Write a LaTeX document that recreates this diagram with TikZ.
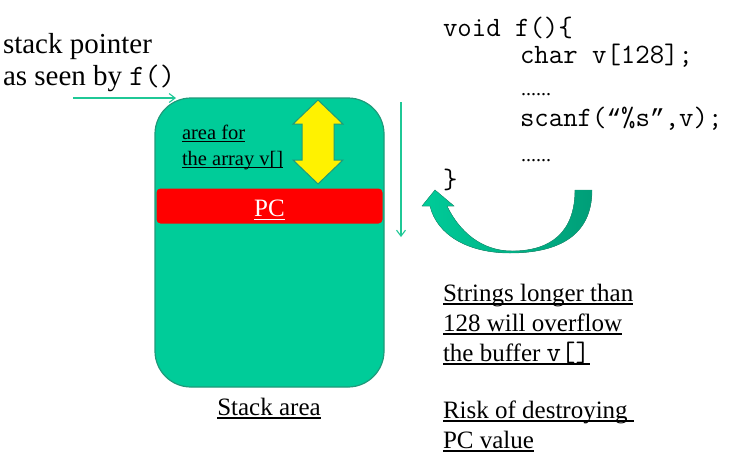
\documentclass[tikz,border=0pt]{standalone}
\usepackage{fontspec}
\setmainfont{Liberation Serif}
\newcommand\cour{\ttfamily}
\newfontfamily\lmono{Liberation Mono}
\newcommand\cq[1]{\makebox[14.7pt]{\lmono\fontsize{24.5}{24.5}\selectfont #1}}
\usetikzlibrary{arrows.meta}
\definecolor{stackfill}{HTML}{00CC99}
\definecolor{stackedge}{HTML}{1E9A7A}
\definecolor{linecol}{HTML}{1FC896}
\definecolor{arrdark}{HTML}{009E78}
\newcommand\myul[1]{\setbox0\hbox{#1}\rlap{\rule[-0.14em]{\wd0}{0.055em}}\box0}
\begin{document}
\begin{tikzpicture}[x=1pt,y=-1pt,
  lbl/.style={anchor=base west, inner sep=0pt, outer sep=0pt},
  thinarrow/.style={draw=linecol, line width=1.1pt, -{Straight Barb[length=6pt,width=9pt]}},
  codefont/.style={font=\cour\fontsize{28}{28}\selectfont},
  dotsfont/.style={font=\fontsize{20}{20}\selectfont},
  bigfont/.style={font=\fontsize{29}{29}\selectfont},
  notefont/.style={font=\fontsize{25}{25}\selectfont},
  smallfont/.style={font=\fontsize{20.5}{20.5}\selectfont}]
\useasboundingbox (0,0) rectangle (732,472);

% stack area
\node (stack) [draw=stackedge, fill=stackfill, rounded corners=36pt, line width=1.2pt,
  minimum width=229pt, minimum height=289pt, inner sep=0pt] at (269.5,242.5) {};
\node (pc) [fill=red, rounded corners=4pt, minimum width=226pt, minimum height=35pt, inner sep=0pt] at (269.5,206) {};
\node (pclbl) [lbl, anchor=base, notefont, text=white] at (269.5,216.5) {\myul{PC}};

% yellow double arrow
\draw[fill=yellow, draw=stackedge, line width=1pt]
  (318,100) -- (343,124) -- (334,124) -- (334,160) -- (343,160) -- (318,184)
  -- (293,160) -- (302,160) -- (302,124) -- (293,124) -- cycle;

\node (area1) [lbl, smallfont] at (182,139) {\myul{area for}};
\node (area2) [lbl, smallfont] at (182,165) {\myul{the array v[]}};

\node (stacklbl) [lbl, anchor=base, notefont] at (269,415) {\myul{Stack area}};

% stack pointer
\node (sp1) [lbl, bigfont] at (3,53) {stack pointer};
\node (sp2) [lbl, bigfont] at (3,85) {as seen by {\cour\fontsize{29.5}{29.5}\selectfont f()}};
\coordinate (spa) at (73,98);
\coordinate (spb) at (176,98);
\draw[thinarrow] (spa) -- (spb);

% vertical arrow
\coordinate (va) at (401,102);
\coordinate (vb) at (401,237);
\draw[thinarrow] (va) -- (vb);

% code
\node (c1) [lbl, codefont] at (443,36) {void f()\{};
\node (c2) [lbl, codefont] at (520,63) {char v[128];};
\node (c3) [lbl, dotsfont] at (521,95) {......};
\node (c4) [lbl, codefont] at (520,126) {scanf(\cq{“}\%s\cq{”},v);};
\node (c5) [lbl, dotsfont] at (521,161) {......};
\node (c6) [lbl, codefont] at (443,188) {\}};

% curved arrow
\fill[left color=stackfill, right color=arrdark, draw=stackedge, line width=0.4pt]
  (592,190) .. controls (592,236) and (558,253) .. (510,253)
  .. controls (468,253) and (437,235) .. (430,206)
  -- (422,206) -- (435,190) -- (454,206) -- (447,206)
  .. controls (459,231) and (481,251) .. (512,251)
  .. controls (551,251) and (575,232) .. (575,190) -- cycle;

% notes
\node (n1) [lbl, notefont] at (443,301) {\myul{Strings longer than}};
\node (n2) [lbl, notefont] at (443,331) {\myul{128 will overflow}};
\node (n3) [lbl, notefont] at (443,361) {\myul{the buffer {\cour\fontsize{28}{28}\selectfont v[]}}};
\node (n4) [lbl, notefont] at (443,418) {\myul{Risk of destroying\ }};
\node (n5) [lbl, notefont] at (443,448) {\myul{PC value}};
\end{tikzpicture}
\end{document}
